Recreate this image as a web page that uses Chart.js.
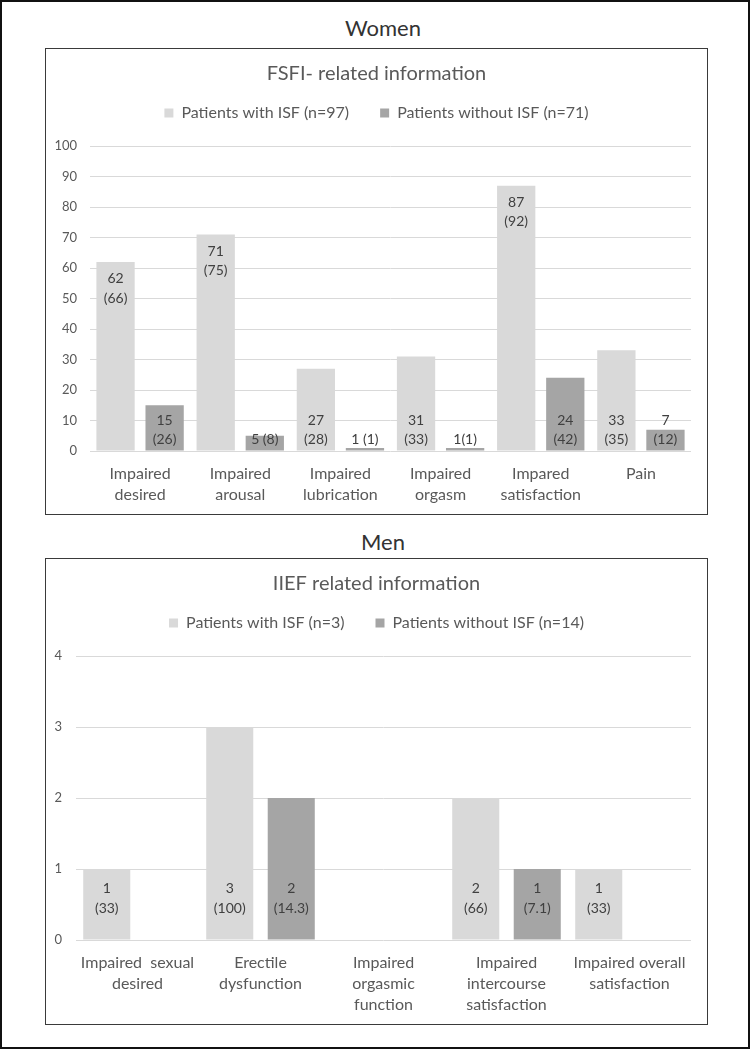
<!DOCTYPE html>
<html><head><meta charset="utf-8">
<script src="https://cdn.jsdelivr.net/npm/chart.js@4.4.1/dist/chart.umd.min.js"></script>
<style>
html,body{margin:0;padding:0;background:#fff;}
canvas{display:block;}
#frame{position:absolute;left:0;top:0;width:750px;height:1049px;box-sizing:border-box;border:2px solid #111;}
.head{position:absolute;left:45px;width:676px;text-align:center;font-family:Lato;font-size:22px;color:#333;height:26px;line-height:26px;}
.wrap{position:absolute;left:45px;width:663px;height:467px;}
.box{position:absolute;left:45px;width:663px;height:467px;box-sizing:border-box;border:1.5px solid #3a3a3a;pointer-events:none;}
</style></head>
<body>
<div id="frame"></div>
<div class="head" style="top:15px">Women</div>
<div class="wrap" style="top:48px"><canvas id="c1" width="663" height="467"></canvas></div>
<div class="box" style="top:48px"></div>
<div class="head" style="top:529px">Men</div>
<div class="wrap" style="top:558px"><canvas id="c2" width="663" height="467"></canvas></div>
<div class="box" style="top:558px"></div>
<script>
// ---- Women (FSFI) ----
const womenTitle = 'FSFI- related information';
const womenSeriesNames = ['Patients with ISF (n=97)', 'Patients without ISF (n=71)'];
const womenCategories = [['Impaired','desired'],['Impaired','arousal'],['Impaired','lubrication'],['Impaired','orgasm'],['Impared','satisfaction'],'Pain'];
const womenWithISF = [62, 71, 27, 31, 87, 33];
const womenWithoutISF = [15, 5, 1, 1, 24, 7];
const womenWithLabels = ['62\n(66)', '71\n(75)', '27\n(28)', '31\n(33)', '87\n(92)', '33\n(35)'];
const womenWithoutLabels = ['15\n(26)', '5 (8)', '1 (1)', '1(1)', '24\n(42)', '7\n(12)'];
const womenYMax = 100;
const womenYStep = 10;

// ---- Men (IIEF) ----
const menTitle = 'IIEF related information';
const menSeriesNames = ['Patients with ISF (n=3)', 'Patients without ISF (n=14)'];
const menCategories = [['Impaired  sexual','desired'],['Erectile','dysfunction'],['Impaired','orgasmic','function'],['Impaired','intercourse','satisfaction'],['Impaired overall','satisfaction']];
const menWithISF = [1, 3, 0, 2, 1];
const menWithoutISF = [0, 2, 0, 1, 0];
const menWithLabels = ['1\n(33)', '3\n(100)', '', '2\n(66)', '1\n(33)'];
const menWithoutLabels = ['', '2\n(14.3)', '', '1\n(7.1)', ''];
const menYMax = 4;
const menYStep = 1;

const COLOR_WITH = '#d9d9d9';
const COLOR_WITHOUT = '#a5a5a5';

const barLabels = {
  id: 'barLabels',
  afterDatasetsDraw(chart, args, opts) {
    const ctx = chart.ctx;
    const base = chart.scales.y.getPixelForValue(0);
    ctx.save();
    ctx.font = opts.font;
    ctx.fillStyle = opts.color;
    ctx.textAlign = 'center';
    ctx.textBaseline = 'middle';
    chart.data.datasets.forEach((ds, di) => {
      const meta = chart.getDatasetMeta(di);
      const texts = opts.labels[di];
      meta.data.forEach((bar, i) => {
        const t = texts[i];
        if (!t) return;
        const lines = t.split('\n');
        const lh = opts.lineHeight;
        let top;
        if (ds.data[i] >= opts.endThreshold) top = bar.y + opts.endOffset;
        else top = base - opts.basePad - lines.length * lh;
        lines.forEach((ln, k) => ctx.fillText(ln, bar.x, top + lh * (k + 0.5)));
      });
    });
    ctx.restore();
  }
};

function makeChart(id, title, names, cats, a, b, la, lb, yMax, yStep, cfg) {
  return new Chart(document.getElementById(id), {
    type: 'bar',
    data: {
      labels: cats,
      datasets: [
        { label: names[0], data: a, backgroundColor: COLOR_WITH, categoryPercentage: cfg.cp, barPercentage: cfg.bp },
        { label: names[1], data: b, backgroundColor: COLOR_WITHOUT, categoryPercentage: cfg.cp, barPercentage: cfg.bp }
      ]
    },
    plugins: [barLabels],
    options: {
      responsive: false,
      animation: false,
      events: [],
      layout: { padding: 0 },
      plugins: {
        title: { display: true, text: title, color: '#595959', font: { size: 20, weight: 'normal', lineHeight: 1.2 }, padding: { top: 14, bottom: -12 } },
        subtitle: { display: true, text: ' ', weight: 500, position: 'top', font: { size: 1, lineHeight: 1 }, padding: { top: 14, bottom: 0 } },
        legend: { display: true, position: 'top', labels: { boxWidth: 9, boxHeight: 9, padding: 31, color: '#595959', font: { size: 16 } } },
        tooltip: { enabled: false },
        barLabels: { labels: [la, lb], font: '14px Lato', color: '#404040', lineHeight: cfg.lh, endThreshold: cfg.endThreshold, endOffset: cfg.endOffset, basePad: cfg.basePad }
      },
      scales: {
        x: {
          grid: { display: false, drawTicks: false },
          border: { display: false },
          ticks: { color: '#595959', font: { size: 16, lineHeight: 1.3 }, padding: 12.5, maxRotation: 0, autoSkip: false },
          afterFit(s) { s.height = cfg.xHeight; }
        },
        y: {
          min: 0, max: yMax,
          grid: { color: '#d9d9d9', lineWidth: 1, drawTicks: false },
          border: { display: false },
          ticks: { stepSize: yStep, color: '#595959', font: { size: 13 }, padding: cfg.yPad },
          afterFit(s) { s.width = cfg.yWidth; }
        },
        yR: {
          type: 'linear', position: 'right', display: true,
          grid: { display: false, drawTicks: false },
          border: { display: false },
          ticks: { display: false },
          afterFit(s) { s.width = 17; }
        }
      }
    }
  });
}

Chart.defaults.font.family = 'Lato';

function draw() {
  makeChart('c1', womenTitle, womenSeriesNames, womenCategories, womenWithISF, womenWithoutISF, womenWithLabels, womenWithoutLabels, womenYMax, womenYStep,
    { cp: 0.98, bp: 0.78, lh: 19.5, endThreshold: 50, endOffset: 7, basePad: 1.5, xHeight: 64, yWidth: 45, yPad: 13 });
  makeChart('c2', menTitle, menSeriesNames, menCategories, menWithISF, menWithoutISF, menWithLabels, menWithoutLabels, menYMax, menYStep,
    { cp: 1.0, bp: 0.765, lh: 20, endThreshold: Infinity, endOffset: 0, basePad: 22, xHeight: 85, yWidth: 31, yPad: 14 });
}
if (document.fonts && document.fonts.load) {
  Promise.all([document.fonts.load('16px Lato')]).then(draw, draw);
} else draw();
</script>
</body></html>
